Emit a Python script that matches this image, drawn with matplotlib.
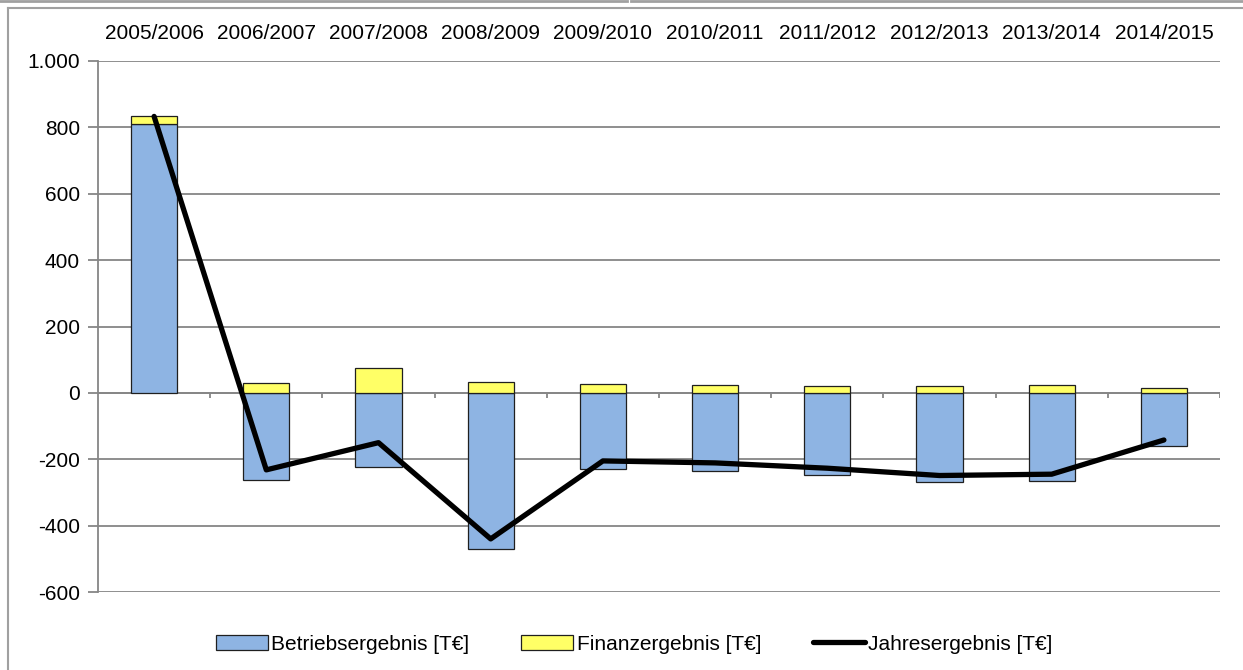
import numpy as np
import matplotlib
matplotlib.use("Agg")
import matplotlib.pyplot as plt
from matplotlib.ticker import FuncFormatter
from matplotlib.lines import Line2D

plt.rcParams['font.family'] = ['Liberation Sans', 'DejaVu Sans']

years = ["2005/2006", "2006/2007", "2007/2008", "2008/2009", "2009/2010",
         "2010/2011", "2011/2012", "2012/2013", "2013/2014", "2014/2015"]
betrieb = [810, -262, -223, -470, -229, -235, -248, -269, -267, -160]
finanz = [23, 30, 75, 33, 27, 23, 22, 20, 23, 16]
jahres = [833, -232, -150, -440, -205, -211, -227, -249, -245, -142]

W, H = 1243, 670
fig = plt.figure(figsize=(W / 100, H / 100), dpi=100)
ax = fig.add_axes([98 / W, 1 - 592 / H, (1220 - 98) / W, (592 - 61) / H])

x = np.arange(len(years))
grey = "#868686"
bw = 0.41

b1 = ax.bar(x, betrieb, bw, color="#8EB4E3", edgecolor="#1f1f1f", linewidth=0.9,
            label="Betriebsergebnis [T€]", zorder=3)
fbottom = [b if b > 0 else 0 for b in betrieb]
b2 = ax.bar(x, finanz, bw, bottom=fbottom, color="#FFFF66", edgecolor="#1f1f1f",
            linewidth=0.9, label="Finanzergebnis [T€]", zorder=3)
l1, = ax.plot(x, jahres, color="black", linewidth=3.8, solid_capstyle="round",
              label="Jahresergebnis [T€]", zorder=4)

ax.set_xlim(-0.5, len(years) - 0.5)
ax.set_ylim(-600, 1000)
ax.set_yticks(range(-600, 1001, 200))
ax.yaxis.set_major_formatter(FuncFormatter(lambda v, p: f"{int(v):,}".replace(",", ".")))
ax.grid(axis="y", color=grey, linewidth=1.3, zorder=0)
ax.tick_params(axis="y", length=7, color=grey, width=1.3, labelsize=15, pad=6)

# x labels at the top, no tick marks there
ax.set_xticks(x)
ax.set_xticklabels(years)
ax.xaxis.tick_top()
ax.tick_params(axis="x", length=0, labelsize=15, pad=13)

for s in ["top", "right", "bottom"]:
    ax.spines[s].set_visible(False)
ax.spines["left"].set_color(grey)
ax.spines["left"].set_linewidth(1.3)

# zero line with small category tick marks
ax.axhline(0, color=grey, linewidth=1.3, zorder=2)
ax.vlines(np.arange(0.5, len(years), 1.0), -16, 0, color=grey, linewidth=1.3, zorder=2)

ax.legend([b1, b2, l1], [b1.get_label(), b2.get_label(), l1.get_label()],
          loc="upper center", bbox_to_anchor=(0.478, -0.045), ncol=3, frameon=False,
          fontsize=15, handlelength=2.5, handletextpad=0.15, columnspacing=2.5)

# chart border lines
fig.add_artist(Line2D([8 / W, 8 / W], [0, 1 - 8 / H], color="#a0a0a0", linewidth=1.5))
fig.add_artist(Line2D([8 / W, 1], [1 - 8 / H, 1 - 8 / H], color="#a0a0a0", linewidth=1.5))
fig.add_artist(Line2D([0, 627 / W], [1 - 1 / H, 1 - 1 / H], color="#a0a0a0", linewidth=2))
fig.add_artist(Line2D([631 / W, 1], [1 - 1 / H, 1 - 1 / H], color="#a0a0a0", linewidth=2))

fig.savefig("out.png", dpi=100)
